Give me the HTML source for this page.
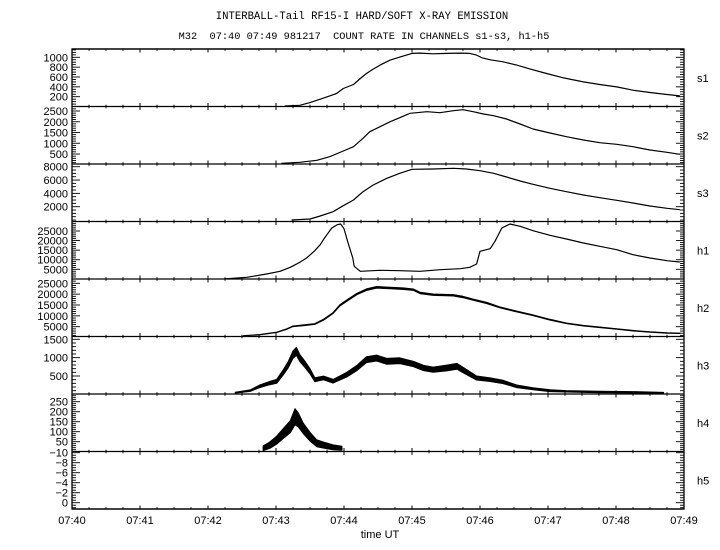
<!DOCTYPE html>
<html><head><meta charset="utf-8">
<style>
html,body{margin:0;padding:0;background:#fff;}
svg{display:block;}
text{font-family:"Liberation Sans",sans-serif;fill:#000;}
.mono{font-family:"Liberation Mono",monospace;}
</style></head>
<body>
<svg id="chart" width="720" height="550" viewBox="0 0 720 550" xmlns="http://www.w3.org/2000/svg">
<text class="mono" x="362" y="19" font-size="10.6" text-anchor="middle">INTERBALL-Tail RF15-I HARD/SOFT X-RAY EMISSION</text>
<text class="mono" x="364" y="39" font-size="10.3" text-anchor="middle" xml:space="preserve">M32  07:40 07:49 981217  COUNT RATE IN CHANNELS s1-s3, h1-h5</text>
<text x="380" y="538" font-size="11" text-anchor="middle">time UT</text>
<g id="g"></g>
</svg>
<script>
// ---- data (time in minutes after 07:40) ----
const timeTickLabels = ["07:40","07:41","07:42","07:43","07:44","07:45","07:46","07:47","07:48","07:49"];
const channelNames = ["s1","s2","s3","h1","h2","h3","h4","h5"];

const s1Times = [3.13,3.35,3.50,3.65,3.79,3.89,3.99,4.14,4.24,4.33,4.43,4.55,4.68,4.82,5.00,5.12,5.31,5.51,5.71,5.85,5.95,6.03,6.15,6.34,6.54,6.74,6.98,7.23,7.52,7.76,8.01,8.25,8.50,8.75,8.94];
const s1Values = [12,26,81,149,216,265,367,448,570,672,760,855,943,1004,1079,1086,1071,1079,1086,1079,1045,990,949,908,841,760,672,582,501,448,399,332,285,244,216];
const s1Ticks = [1000,800,600,400,200];

const s2Times = [3.08,3.35,3.60,3.79,3.99,4.14,4.28,4.38,4.53,4.68,4.82,4.97,5.22,5.41,5.61,5.75,5.90,6.05,6.20,6.39,6.59,6.78,7.03,7.27,7.52,7.76,8.01,8.25,8.50,8.75,8.94];
const s2Values = [67,114,207,374,640,840,1230,1537,1770,2002,2188,2393,2467,2420,2514,2560,2467,2360,2281,2128,1895,1663,1477,1305,1151,1026,951,840,686,579,486];
const s2Ticks = [2500,2000,1500,1000,500];

const s3Times = [3.23,3.50,3.65,3.84,3.99,4.14,4.28,4.43,4.63,4.82,5.00,5.31,5.61,5.80,6.00,6.20,6.39,6.59,6.78,7.03,7.27,7.52,7.76,8.01,8.25,8.50,8.75,8.94];
const s3Values = [0,155,605,1250,2150,3005,4250,5255,6260,7010,7610,7655,7760,7655,7400,7010,6455,5855,5360,4760,4250,3755,3350,2960,2555,2105,1760,1550];
const s3Ticks = [8000,6000,4000,2000];

const h1Times = [2.25,2.57,2.86,3.06,3.21,3.35,3.45,3.57,3.65,3.72,3.82,3.90,3.95,4.00,4.06,4.13,4.15,4.24,4.53,4.82,5.12,5.41,5.71,5.85,5.95,6.00,6.15,6.22,6.32,6.44,6.59,6.78,7.03,7.27,7.52,7.76,8.01,8.25,8.50,8.75,8.94];
const h1Values = [0,822,2546,3956,6044,8655,10900,14713,17846,21710,26566,28290,28655,26200,18733,10900,6567,3956,4478,4269,3956,4791,5313,6044,7768,14400,15757,19621,26566,28655,27454,25157,22755,20822,18733,17010,15235,12624,10900,9491,8812];
const h1Ticks = [25000,20000,15000,10000,5000];

const h2Times = [2.52,2.76,3.01,3.16,3.25,3.40,3.57,3.70,3.84,3.94,4.06,4.19,4.33,4.48,4.68,4.87,5.02,5.12,5.31,5.61,5.75,5.90,6.10,6.29,6.49,6.78,7.03,7.27,7.52,7.76,8.01,8.25,8.50,8.75,8.94];
const h2Values = [853,1313,2419,3940,5184,5645,6244,8226,11313,14862,17442,20069,22051,23157,22834,22512,22051,20530,19747,19470,18687,17442,15922,13940,12373,10253,8226,6567,5461,4724,3940,3157,2558,2097,1959];
const h2Spread = [60,80,100,120,150,180,200,220,250,280,300,320,350,380,380,350,330,330,300,300,300,280,280,250,230,200,180,160,140,140,120,120,100,100,100];
const h2Ticks = [25000,20000,15000,10000,5000];

const h3Times = [2.40,2.62,2.76,2.91,3.01,3.11,3.18,3.25,3.30,3.35,3.43,3.50,3.57,3.70,3.84,3.94,4.04,4.19,4.33,4.48,4.63,4.82,5.02,5.17,5.31,5.51,5.66,5.80,5.95,6.15,6.34,6.54,6.78,7.03,7.27,7.76,8.25,8.70];
const h3Values = [45,100,219,309,356,609,808,1080,1173,990,808,628,399,446,356,446,535,718,944,990,900,917,827,718,672,718,764,609,446,399,337,219,154,100,83,64,56,37];
const h3Spread = [10,20,35,45,55,70,85,100,110,95,85,70,55,50,50,55,65,70,80,80,80,80,70,70,70,80,80,70,55,50,45,35,28,25,20,18,18,15];
const h3Ticks = [1500,1000,500];

const h4Times = [2.81,2.91,3.01,3.11,3.21,3.28,3.33,3.40,3.50,3.60,3.70,3.84,3.97];
const h4Values = [17,33,58,92,125,175,158,117,75,42,33,22,17];
const h4Spread = [12,16,20,25,30,40,35,26,22,17,15,12,10];
const h4Ticks = [250,200,150,100,50];

const h5Ticks = [-10,-8,-6,-4,-2,0];

// ---- layout ----
const X0 = 72, PXM = 68, XR = 684;
const bounds = [49,106.5,164,221.5,279,336.5,394,451.5,509];
const maps = [
  [1000,57.3,200,96.7,50],
  [2500,111,500,154,100],
  [8000,166.7,2000,206.7,500],
  [25000,231,5000,269.3,1000],
  [25000,283.3,5000,326.7,1000],
  [1500,339.3,500,376,100],
  [250,401.7,50,441.7,10],
  [-10,452.7,0,502.7,0.5]
];
const tickSets = [s1Ticks,s2Ticks,s3Ticks,h1Ticks,h2Ticks,h3Ticks,h4Ticks,h5Ticks];

const NS = "http://www.w3.org/2000/svg";
const G = document.getElementById('g');
function mk(tag, attrs, parent){
  const e = document.createElementNS(NS, tag);
  for (const k in attrs) e.setAttribute(k, attrs[k]);
  (parent||G).appendChild(e);
  return e;
}
const xs = t => X0 + t*PXM;
function yScale(i){
  const [v1,p1,v2,p2] = maps[i];
  const k = (p2-p1)/(v2-v1);
  return v => p1 + (v-v1)*k;
}
function yInv(i){
  const [v1,p1,v2,p2] = maps[i];
  const k = (p2-p1)/(v2-v1);
  return p => v1 + (p-p1)/k;
}

const frame = mk('rect',{x:X0,y:bounds[0],width:XR-X0,height:bounds[8]-bounds[0],fill:'none',stroke:'#000','stroke-width':1.3});



for (let b=0; b<bounds.length; b++){
  const yb = bounds[b];
  const ln = mk('line',{x1:X0,x2:XR,y1:yb,y2:yb,stroke:'#000','stroke-width':1.3});
  
  
  for (let q=0; q<=36; q++){
    const x = X0 + q*PXM/4;
    const major = q%4===0;
    const up = (b===0)?0:(major?3.5:1.8);
    const dn = (b===8)?0:(major?3.5:1.8);
    const t = mk('line',{x1:x,x2:x,y1:yb-up,y2:yb+dn,stroke:'#000','stroke-width':1});
    
    
  }
}
timeTickLabels.forEach((lab,i)=>{
  const t = mk('text',{x:xs(i),y:524,'font-size':11,'text-anchor':'middle'});
  t.textContent = lab;
  
  
});

for (let i=0;i<8;i++){
  const top = bounds[i], bot = bounds[i+1];
  const ys = yScale(i), inv = yInv(i);
  const step = maps[i][4];
  let va = inv(top), vb = inv(bot);
  let lo = Math.min(va,vb), hi = Math.max(va,vb);
  for (let v = Math.ceil(lo/step)*step; v<=hi+1e-9; v+=step){
    const y = ys(v);
    if (y<=top+0.5 || y>=bot-0.5) continue;
    const major = tickSets[i].some(tv=>Math.abs(tv-v)<1e-6);
    const L = major?8:4;
    const a = mk('line',{x1:X0,x2:X0+L,y1:y,y2:y,stroke:'#000','stroke-width':0.9});
    
    
    const c = mk('line',{x1:XR-L,x2:XR,y1:y,y2:y,stroke:'#000','stroke-width':0.9});
    
    
  }
  tickSets[i].forEach(v=>{
    const t = mk('text',{x:X0-4,y:ys(v)+4,'font-size':11,'text-anchor':'end'});
    t.textContent = (v<0?'\u2212'+(-v):String(v));
    
    
  });
  const nm = mk('text',{x:697,y:(top+bot)/2+4,'font-size':11});
  nm.textContent = channelNames[i];
  
  
}

function line(i, times, vals, name, sw){
  const ys = yScale(i);
  const pts = times.map((t,k)=>xs(t).toFixed(1)+','+ys(vals[k]).toFixed(1)).join(' ');
  const p = mk('polyline',{points:pts,fill:'none',stroke:'#000','stroke-width':sw,'stroke-linejoin':'round'});
  
  
}
function band(i, times, vals, spread, name){
  const ys = yScale(i);
  const upper = times.map((t,k)=>xs(t).toFixed(1)+','+ys(vals[k]+spread[k]).toFixed(1));
  const lower = times.map((t,k)=>xs(t).toFixed(1)+','+ys(vals[k]-spread[k]).toFixed(1)).reverse();
  const p = mk('polygon',{points:upper.concat(lower).join(' '),fill:'#000',stroke:'#000','stroke-width':1,'stroke-linejoin':'round'});
  
  
}
line(0, s1Times, s1Values, 'series-s1', 1.2);
line(1, s2Times, s2Values, 'series-s2', 1.2);
line(2, s3Times, s3Values, 'series-s3', 1.2);
line(3, h1Times, h1Values, 'series-h1', 1.2);
band(4, h2Times, h2Values, h2Spread, 'series-h2');
band(5, h3Times, h3Values, h3Spread, 'series-h3');
band(6, h4Times, h4Values, h4Spread, 'series-h4');
</script>
</body></html>
